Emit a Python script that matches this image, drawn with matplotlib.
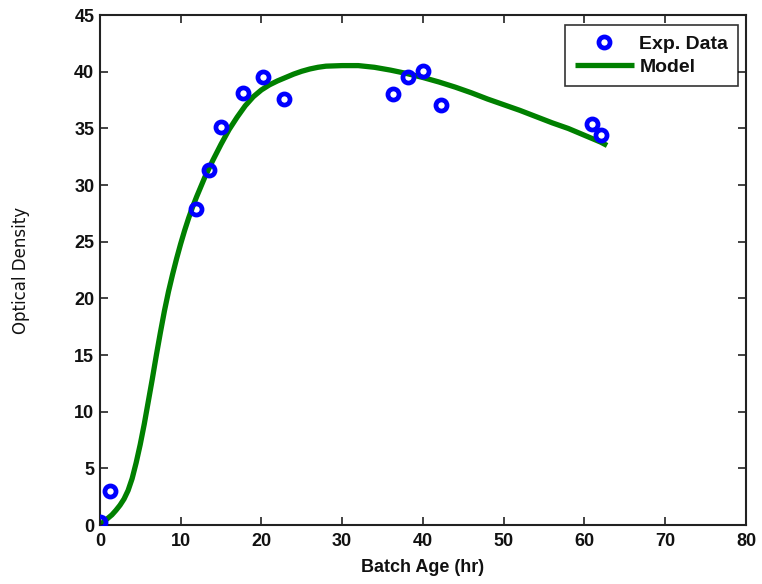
import matplotlib
matplotlib.use("Agg")
import matplotlib.pyplot as plt

plt.rcParams['font.family'] = ['Liberation Sans', 'DejaVu Sans']

exp_x = [0.0, 1.2, 11.9, 13.5, 15.0, 17.7, 20.2, 22.8, 36.3, 38.1, 40.0, 42.2, 60.9, 62.1]
exp_y = [0.3, 3.0, 27.9, 31.3, 35.1, 38.1, 39.5, 37.6, 38.0, 39.5, 40.1, 37.1, 35.4, 34.4]

model_x = [0, 0.5, 1, 1.5, 2, 2.5, 3, 3.5, 4, 4.5, 5, 5.5, 6, 6.5, 7, 7.5, 8, 8.5, 9, 9.5,
           10, 10.5, 11, 11.5, 12, 13, 14, 15, 16, 17, 18, 19, 20, 21, 22, 23, 24, 25, 26,
           27, 28, 30, 32, 34, 36, 38, 40, 42, 44, 46, 48, 50, 52, 54, 56, 58, 60, 62, 62.8]
model_y = [0.0, 0.3, 0.6, 0.9, 1.3, 1.75, 2.3, 3.05, 4.1, 5.5, 7.1, 8.9, 10.9, 12.9,
           15.0, 17.0, 18.9, 20.6, 22.1, 23.5, 24.8, 26.0, 27.1, 28.1, 29.0, 30.7, 32.2,
           33.6, 34.9, 36.0, 37.0, 37.8, 38.4, 38.85, 39.2, 39.5, 39.8, 40.05, 40.25, 40.4,
           40.5, 40.55, 40.55, 40.4, 40.15, 39.85, 39.5, 39.1, 38.65, 38.15, 37.6, 37.1,
           36.6, 36.05, 35.5, 35.0, 34.4, 33.8, 33.5]

x_ticks = [0, 10, 20, 30, 40, 50, 60, 70, 80]
y_ticks = [0, 5, 10, 15, 20, 25, 30, 35, 40, 45]

fig = plt.figure(figsize=(7.62, 5.84), dpi=100)
ax = fig.add_axes([0.131, 0.101, 0.848, 0.873])

ax.plot(exp_x, exp_y, linestyle='none', marker='o', markersize=8,
        markerfacecolor='none', markeredgecolor='#0000ff', markeredgewidth=3.4,
        label='Exp. Data', zorder=3)
ax.plot(model_x, model_y, color='#008000', linewidth=3.8, label='Model', zorder=2,
        solid_joinstyle='round', solid_capstyle='butt')

ax.set_xlim(0, 80)
ax.set_ylim(0, 45)
ax.set_xticks(x_ticks)
ax.set_yticks(y_ticks)
ax.tick_params(direction='in', top=True, right=True, length=6, width=1.2,
               labelsize=13, colors='#222222', labelcolor='#111111')
ax.tick_params(axis='x', pad=6)
ax.tick_params(axis='y', pad=4)
for lab in ax.get_xticklabels() + ax.get_yticklabels():
    lab.set_fontweight('bold')
for s in ax.spines.values():
    s.set_linewidth(1.5)
    s.set_color('#222222')

ax.set_xlabel('Batch Age (hr)', fontsize=13, fontweight='bold', color='#111111')
ax.xaxis.set_label_coords(0.5, -0.067)
ax.set_ylabel('Optical Density', fontsize=12, color='#111111',
              family=['DejaVu Sans'])
ax.yaxis.set_label_coords(-0.108, 0.5)

leg = ax.legend(loc='upper right', bbox_to_anchor=(0.9876, 0.9804), fontsize=14,
                frameon=True, fancybox=False, edgecolor='black', borderaxespad=0.0,
                handlelength=3.05, handletextpad=0.28, borderpad=0.5,
                labelspacing=0.3)
leg.get_frame().set_linewidth(1.2)
for t in leg.get_texts():
    t.set_fontweight('bold')
    t.set_color('#111111')

fig.savefig('out.png', dpi=100)
